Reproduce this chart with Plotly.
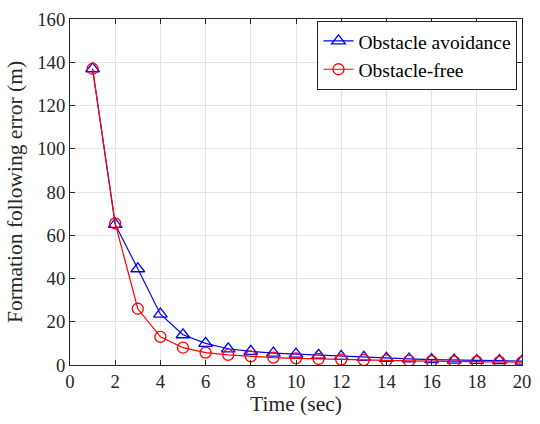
import plotly.graph_objects as go

time = list(range(1, 21))
avoid = [137, 65, 44.5, 23.5, 14, 10, 7.5, 6.3, 5.5, 5, 4.5, 4, 3.5, 3.1, 2.8, 2.5, 2.3, 2.1, 2, 1.8]
free = [137, 65.5, 26, 13, 8, 5.7, 4.7, 4, 3.4, 3.1, 2.8, 2.5, 2.3, 2.1, 1.9, 1.8, 1.6, 1.5, 1.4, 1.3]

font = "'Liberation Serif', 'Times New Roman', serif"

fig = go.Figure()
fig.add_trace(go.Scatter(
    x=time, y=avoid, mode="lines+markers", name="Obstacle avoidance",
    line=dict(color="#0000ff", width=1.2),
    marker=dict(symbol="triangle-up-open", size=12, color="#0000ff", line=dict(width=1.3)),
))
fig.add_trace(go.Scatter(
    x=time, y=free, mode="lines+markers", name="Obstacle-free",
    line=dict(color="#ff0000", width=1.2),
    marker=dict(symbol="circle-open", size=11, color="#ff0000", line=dict(width=1.3)),
))

axis_common = dict(
    showgrid=True, gridcolor="#e3e3e3", gridwidth=1,
    showline=True, linecolor="#262626", linewidth=1, mirror="ticks",
    ticks="inside", ticklen=5, tickcolor="#262626",
    tickfont=dict(family=font, size=18.7, color="#262626"),
    zeroline=False,
)

fig.update_layout(
    width=540, height=424,
    margin=dict(l=70, r=9, t=12, b=59),
    paper_bgcolor="white", plot_bgcolor="white",
    font=dict(family=font, color="#262626"),
    xaxis=dict(range=[0, 20], dtick=2, tick0=0,
               title=dict(text="Time (sec)", font=dict(family=font, size=21.5, color="#262626"), standoff=4),
               **axis_common),
    yaxis=dict(range=[0, 160], dtick=20, tick0=0,
               title=dict(text="Formation following error (m)", font=dict(family=font, size=21.5, color="#262626"), standoff=8),
               **axis_common),
    legend=dict(x=0.99, y=0.995, xanchor="right", yanchor="top",
                bgcolor="white", bordercolor="#262626", borderwidth=1,
                font=dict(family=font, size=19.5, color="black"),
                tracegroupgap=0),
    showlegend=True,
)

fig.write_html("out.html")
